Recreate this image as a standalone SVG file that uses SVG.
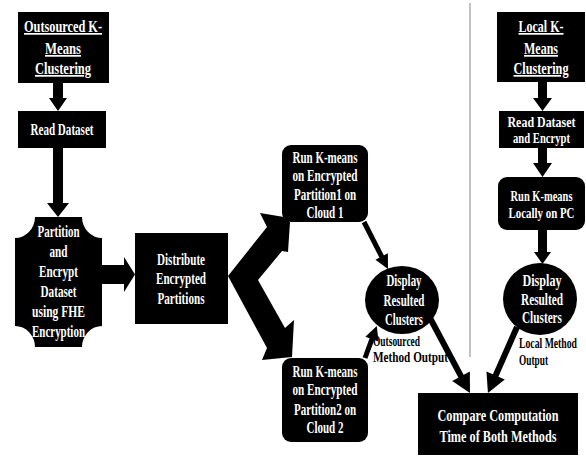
<svg xmlns="http://www.w3.org/2000/svg" width="586" height="457" viewBox="0 0 586 457">
<style>
.box{fill:#000}
.t{font-family:"Liberation Serif","Times New Roman",serif;font-weight:bold;fill:#fff;font-size:17px;text-anchor:middle}
.s{font-size:15px}
.u{text-decoration:underline}
.lb{font-family:"Liberation Serif","Times New Roman",serif;font-weight:bold;fill:#000;font-size:14px;text-anchor:start}
.ln{stroke:#000;fill:none}
</style>
<defs>
<marker id="hs" markerUnits="userSpaceOnUse" markerWidth="30" markerHeight="30" viewBox="-5 -15 30 30" refX="0" refY="0" orient="auto" overflow="visible"><path d="M-1,-7 L13,0 L-1,7 z" fill="#000"/></marker>
<marker id="hl" markerUnits="userSpaceOnUse" markerWidth="30" markerHeight="30" viewBox="-5 -15 30 30" refX="0" refY="0" orient="auto" overflow="visible"><path d="M-1,-10 L18,0 L-1,10 z" fill="#000"/></marker>
</defs>
<rect width="586" height="457" fill="#fff"/>
<line x1="470" y1="3" x2="470" y2="357" stroke="#999" stroke-width="1.2"/>

<g id="connectors">
<polygon points="53,83 63,83 63,98 67,98 58,111 49,98 53,98"/>
<polygon points="53,148 63,148 63,203 69,203 58,217 47,203 53,203"/>
<polygon points="102,265 124,265 124,257 135,274.5 124,292 124,284 102,284"/>
<polygon points="228,276 267,227 260,213 284,217 290,222 288,252 282,251 258,280 285,328 294,320 292,357 262,360 267,348"/>
<polygon points="538,82 547,82 547,98 552,98 542.5,111 533,98 538,98"/>
<polygon points="538,148 547,148 547,163 552,163 542.5,177 533,163 538,163"/>
<polygon points="538,230 547,230 547,252 551,252 542.5,264 534,252 538,252"/>
<line class="ln" x1="364" y1="222" x2="382.1" y2="257.4" stroke-width="5" marker-end="url(#hs)"/>
<line class="ln" x1="365" y1="358" x2="372.3" y2="338.1" stroke-width="5" marker-end="url(#hs)"/>
<line class="ln" x1="430" y1="318" x2="461.5" y2="377.1" stroke-width="6" marker-end="url(#hl)"/>
<line class="ln" x1="517" y1="327" x2="495.2" y2="376.5" stroke-width="6" marker-end="url(#hl)"/>
</g>

<g id="outsourced">
<rect class="box" x="18" y="12" width="91" height="71"/>
<text class="t u" x="63" y="32" textLength="78" lengthAdjust="spacingAndGlyphs">Outsourced K-</text>
<text class="t u" x="63" y="54" textLength="36" lengthAdjust="spacingAndGlyphs">Means</text>
<text class="t u" x="63" y="74" textLength="56" lengthAdjust="spacingAndGlyphs">Clustering</text>
</g>

<g id="read">
<rect class="box" x="18" y="111" width="88" height="37"/>
<text class="t" x="62" y="135" textLength="63" lengthAdjust="spacingAndGlyphs">Read Dataset</text>
</g>

<g id="partition">
<path class="box" d="M35,217 H82 A20,21 0 0 0 102,238 V326 A20,21 0 0 0 82,347 H35 A20,21 0 0 0 15,326 V238 A20,21 0 0 0 35,217 Z"/>
<text class="t" x="58.5" y="237" textLength="42" lengthAdjust="spacingAndGlyphs">Partition</text>
<text class="t" x="58.5" y="257" textLength="18" lengthAdjust="spacingAndGlyphs">and</text>
<text class="t" x="58.5" y="277" textLength="39" lengthAdjust="spacingAndGlyphs">Encrypt</text>
<text class="t" x="58.5" y="297" textLength="36" lengthAdjust="spacingAndGlyphs">Dataset</text>
<text class="t" x="58.5" y="317" textLength="53" lengthAdjust="spacingAndGlyphs">using FHE</text>
<text class="t" x="58.5" y="337" textLength="53" lengthAdjust="spacingAndGlyphs">Encryption</text>
</g>

<g id="distribute">
<rect class="box" x="135" y="233" width="93" height="91"/>
<text class="t" x="181" y="265" textLength="48" lengthAdjust="spacingAndGlyphs">Distribute</text>
<text class="t" x="181" y="284" textLength="50" lengthAdjust="spacingAndGlyphs">Encrypted</text>
<text class="t" x="181" y="304" textLength="47" lengthAdjust="spacingAndGlyphs">Partitions</text>
</g>

<g id="run1">
<rect class="box" x="282" y="145" width="86" height="77" rx="9"/>
<text class="t" x="325" y="163" textLength="65" lengthAdjust="spacingAndGlyphs">Run K-means</text>
<text class="t" x="325" y="181" textLength="65" lengthAdjust="spacingAndGlyphs">on Encrypted</text>
<text class="t" x="325" y="200" textLength="62" lengthAdjust="spacingAndGlyphs">Partition1 on</text>
<text class="t" x="325" y="218" textLength="37" lengthAdjust="spacingAndGlyphs">Cloud 1</text>
</g>

<g id="run2">
<rect class="box" x="282" y="358" width="86" height="84" rx="9"/>
<text class="t" x="325" y="377" textLength="65" lengthAdjust="spacingAndGlyphs">Run K-means</text>
<text class="t" x="325" y="395" textLength="65" lengthAdjust="spacingAndGlyphs">on Encrypted</text>
<text class="t" x="325" y="415" textLength="62" lengthAdjust="spacingAndGlyphs">Partition2 on</text>
<text class="t" x="325" y="433" textLength="37" lengthAdjust="spacingAndGlyphs">Cloud 2</text>
</g>

<g id="display-out">
<ellipse class="box" cx="402" cy="300" rx="37" ry="34"/>
<text class="t" x="404" y="286" textLength="35" lengthAdjust="spacingAndGlyphs">Display</text>
<text class="t" x="404" y="306" textLength="41" lengthAdjust="spacingAndGlyphs">Resulted</text>
<text class="t" x="404" y="325" textLength="38" lengthAdjust="spacingAndGlyphs">Clusters</text>
<text class="lb" x="373" y="346" textLength="47" lengthAdjust="spacingAndGlyphs">Outsourced</text>
<text class="lb" x="373" y="362" textLength="75" lengthAdjust="spacingAndGlyphs">Method Output</text>
</g>

<g id="local">
<rect class="box" x="497" y="12" width="88" height="70"/>
<text class="t u" x="541" y="32" textLength="45" lengthAdjust="spacingAndGlyphs">Local K-</text>
<text class="t u" x="541" y="54" textLength="34" lengthAdjust="spacingAndGlyphs">Means</text>
<text class="t u" x="541" y="74" textLength="55" lengthAdjust="spacingAndGlyphs">Clustering</text>
</g>

<g id="read-local">
<rect class="box" x="499" y="111" width="85" height="37"/>
<text class="t s" x="541.5" y="127" textLength="68" lengthAdjust="spacingAndGlyphs">Read  Dataset</text>
<text class="t s" x="541.5" y="143" textLength="57" lengthAdjust="spacingAndGlyphs">and Encrypt</text>
</g>

<g id="run-local">
<rect class="box" x="498" y="177" width="87" height="53" rx="9"/>
<text class="t s" x="541.5" y="201" textLength="62" lengthAdjust="spacingAndGlyphs">Run K-means</text>
<text class="t s" x="541.5" y="218" textLength="66" lengthAdjust="spacingAndGlyphs">Locally on PC</text>
</g>

<g id="display-local">
<ellipse class="box" cx="540" cy="299" rx="37" ry="36"/>
<text class="t" x="542" y="286" textLength="39" lengthAdjust="spacingAndGlyphs">Display</text>
<text class="t" x="542" y="305" textLength="42" lengthAdjust="spacingAndGlyphs">Resulted</text>
<text class="t" x="542" y="323" textLength="40" lengthAdjust="spacingAndGlyphs">Clusters</text>
<text class="lb" x="519" y="348" textLength="58" lengthAdjust="spacingAndGlyphs">Local Method</text>
<text class="lb" x="519" y="365" textLength="29" lengthAdjust="spacingAndGlyphs">Output</text>
</g>

<g id="compare">
<rect class="box" x="418" y="393" width="160" height="62"/>
<text class="t" x="498" y="421" font-size="18" textLength="121" lengthAdjust="spacingAndGlyphs">Compare Computation</text>
<text class="t" x="498" y="442" font-size="18" textLength="117" lengthAdjust="spacingAndGlyphs">Time of Both Methods</text>
</g>
</svg>
